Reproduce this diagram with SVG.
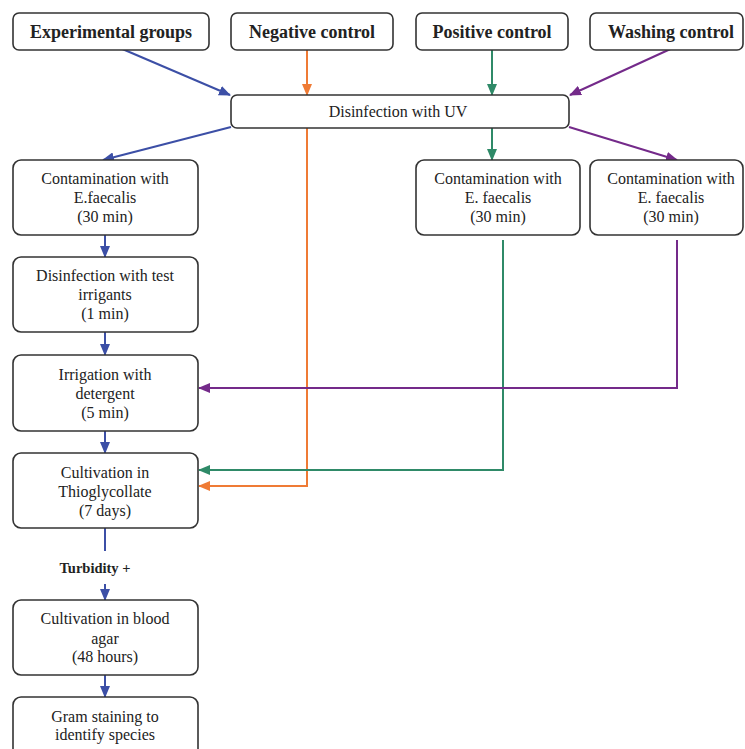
<svg xmlns="http://www.w3.org/2000/svg" width="745" height="749" viewBox="0 0 745 749">
<defs>
<style>
.box{fill:#fff;stroke:#333;stroke-width:1.6}
text{font-family:'Liberation Serif','DejaVu Serif',serif;fill:#222;text-anchor:middle}
.t{font-size:16px}
.h{font-size:18px;font-weight:bold}
.tb{font-size:14.5px;font-weight:bold}
.c{fill:none;stroke-width:2}
.blue{stroke:#3c4fa6}.orange{stroke:#ef7b35}.green{stroke:#2f8a68}.purple{stroke:#742a8a}
</style>
<marker id="mb" markerWidth="12" markerHeight="10" refX="11" refY="5" orient="auto" markerUnits="userSpaceOnUse"><path d="M0,0 L12,5 L0,10 z" fill="#3c4fa6"/></marker>
<marker id="mo" markerWidth="12" markerHeight="10" refX="11" refY="5" orient="auto" markerUnits="userSpaceOnUse"><path d="M0,0 L12,5 L0,10 z" fill="#ef7b35"/></marker>
<marker id="mg" markerWidth="12" markerHeight="10" refX="11" refY="5" orient="auto" markerUnits="userSpaceOnUse"><path d="M0,0 L12,5 L0,10 z" fill="#2f8a68"/></marker>
<marker id="mp" markerWidth="12" markerHeight="10" refX="11" refY="5" orient="auto" markerUnits="userSpaceOnUse"><path d="M0,0 L12,5 L0,10 z" fill="#742a8a"/></marker>
</defs>
<rect width="745" height="749" fill="#fff"/>
<g id="connectors">
<line class="c blue" x1="113" y1="45" x2="230" y2="95" marker-end="url(#mb)"/>
<line class="c orange" x1="307" y1="50" x2="307" y2="95" marker-end="url(#mo)"/>
<line class="c green" x1="492" y1="50" x2="492" y2="95" marker-end="url(#mg)"/>
<line class="c purple" x1="677" y1="46" x2="570" y2="95" marker-end="url(#mp)"/>
<line class="c blue" x1="231" y1="127" x2="103" y2="160" marker-end="url(#mb)"/>
<line class="c green" x1="492" y1="128" x2="492" y2="160" marker-end="url(#mg)"/>
<line class="c purple" x1="569" y1="127" x2="677" y2="160" marker-end="url(#mp)"/>
<polyline class="c orange" points="307,128 307,486 199,486" marker-end="url(#mo)"/>
<polyline class="c green" points="503,240 503,470 199,470" marker-end="url(#mg)"/>
<polyline class="c purple" points="677,240 677,388 199,388" marker-end="url(#mp)"/>
<line class="c blue" x1="105" y1="235" x2="105" y2="257" marker-end="url(#mb)"/>
<line class="c blue" x1="105" y1="332" x2="105" y2="355" marker-end="url(#mb)"/>
<line class="c blue" x1="105" y1="431" x2="105" y2="453" marker-end="url(#mb)"/>
<line class="c blue" x1="105" y1="528" x2="105" y2="551"/>
<line class="c blue" x1="105" y1="584" x2="105" y2="600" marker-end="url(#mb)"/>
<line class="c blue" x1="105" y1="675" x2="105" y2="697" marker-end="url(#mb)"/>
<text class="tb" x="95" y="573">Turbidity +</text>
</g>
<g id="exp"><rect class="box" x="13" y="13" width="196" height="37" rx="6"/><text class="h" x="111" y="38">Experimental groups</text></g>
<g id="neg"><rect class="box" x="231" y="13" width="162" height="37" rx="6"/><text class="h" x="312" y="38">Negative control</text></g>
<g id="pos"><rect class="box" x="416" y="13" width="152" height="37" rx="6"/><text class="h" x="492" y="38">Positive control</text></g>
<g id="wash"><rect class="box" x="590" y="13" width="153" height="37" rx="6"/><text class="h" x="671" y="38">Washing control</text></g>
<g id="uv"><rect class="box" x="231" y="95" width="338" height="33" rx="6"/><text class="t" x="398" y="117">Disinfection with UV</text></g>
<g id="cont1"><rect class="box" x="13" y="160" width="185" height="75" rx="8"/><text class="t" x="105" y="184">Contamination with</text><text class="t" x="105" y="203">E.faecalis</text><text class="t" x="105" y="222">(30 min)</text></g>
<g id="cont2"><rect class="box" x="416" y="160" width="164" height="75" rx="8"/><text class="t" x="498" y="184">Contamination with</text><text class="t" x="498" y="203">E. faecalis</text><text class="t" x="498" y="222">(30 min)</text></g>
<g id="cont3"><rect class="box" x="590" y="160" width="153" height="75" rx="8"/><text class="t" x="671" y="184">Contamination with</text><text class="t" x="671" y="203">E. faecalis</text><text class="t" x="671" y="222">(30 min)</text></g>
<g id="dis"><rect class="box" x="13" y="257" width="185" height="75" rx="8"/><text class="t" x="105" y="281">Disinfection with test</text><text class="t" x="105" y="300">irrigants</text><text class="t" x="105" y="319">(1 min)</text></g>
<g id="irr"><rect class="box" x="13" y="355" width="185" height="76" rx="8"/><text class="t" x="105" y="380">Irrigation with</text><text class="t" x="105" y="399">detergent</text><text class="t" x="105" y="418">(5 min)</text></g>
<g id="thio"><rect class="box" x="13" y="453" width="185" height="75" rx="8"/><text class="t" x="105" y="478">Cultivation in</text><text class="t" x="105" y="497">Thioglycollate</text><text class="t" x="105" y="516">(7 days)</text></g>
<g id="blood"><rect class="box" x="13" y="600" width="185" height="75" rx="8"/><text class="t" x="105" y="624">Cultivation in blood</text><text class="t" x="105" y="644">agar</text><text class="t" x="105" y="662">(48 hours)</text></g>
<g id="gram"><rect class="box" x="13" y="697" width="185" height="70" rx="8"/><text class="t" x="105" y="722">Gram staining to</text><text class="t" x="105" y="740">identify species</text></g>
</svg>
